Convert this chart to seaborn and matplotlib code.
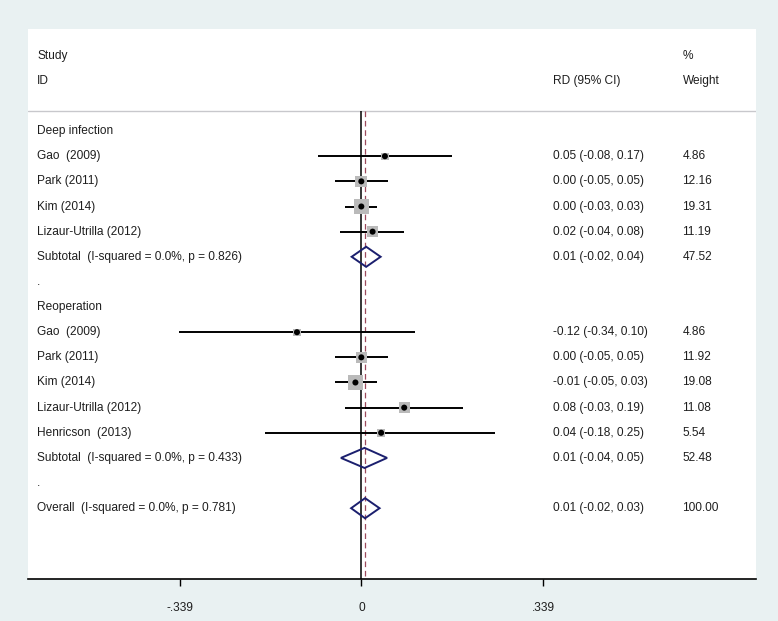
import numpy as np
import pandas as pd
import matplotlib
matplotlib.use("Agg")
import matplotlib.pyplot as plt
import matplotlib.transforms as mtransforms
from matplotlib.patches import Polygon
import seaborn as sns

# ---------------- data ----------------
labels = ["Deep infection", "Gao  (2009)", "Park (2011)", "Kim (2014)", "Lizaur-Utrilla (2012)",
          "Subtotal  (I-squared = 0.0%, p = 0.826)", ".",
          "Reoperation", "Gao  (2009)", "Park (2011)", "Kim (2014)", "Lizaur-Utrilla (2012)",
          "Henricson  (2013)", "Subtotal  (I-squared = 0.0%, p = 0.433)", ".",
          "Overall  (I-squared = 0.0%, p = 0.781)"]
row_type = ["head", "study", "study", "study", "study", "sub", "blank",
            "head", "study", "study", "study", "study", "study", "sub", "blank", "sub"]
est = [np.nan, 0.044, 0.0, 0.0, 0.021, 0.009, np.nan,
       np.nan, -0.12, 0.0, -0.011, 0.08, 0.037, 0.006, np.nan, 0.007]
lo = [np.nan, -0.08, -0.05, -0.03, -0.04, -0.018, np.nan,
      np.nan, -0.34, -0.05, -0.05, -0.03, -0.18, -0.038, np.nan, -0.019]
hi = [np.nan, 0.17, 0.05, 0.03, 0.08, 0.036, np.nan,
      np.nan, 0.10, 0.05, 0.03, 0.19, 0.25, 0.048, np.nan, 0.034]
ci_text = ["", "0.05 (-0.08, 0.17)", "0.00 (-0.05, 0.05)", "0.00 (-0.03, 0.03)", "0.02 (-0.04, 0.08)",
           "0.01 (-0.02, 0.04)", "",
           "", "-0.12 (-0.34, 0.10)", "0.00 (-0.05, 0.05)", "-0.01 (-0.05, 0.03)", "0.08 (-0.03, 0.19)",
           "0.04 (-0.18, 0.25)", "0.01 (-0.04, 0.05)", "", "0.01 (-0.02, 0.03)"]
weights = [np.nan, 4.86, 12.16, 19.31, 11.19, 47.52, np.nan,
           np.nan, 4.86, 11.92, 19.08, 11.08, 5.54, 52.48, np.nan, 100.00]
weight_text = ["", "4.86", "12.16", "19.31", "11.19", "47.52", "",
               "", "4.86", "11.92", "19.08", "11.08", "5.54", "52.48", "", "100.00"]
overall_line = 0.007
tick_vals = [-0.339, 0.0, 0.339]
tick_labels = ["-.339", "0", ".339"]

# ---------------- style ----------------
sns.set_style("white")
plt.rcParams["font.family"] = ["Liberation Sans", "DejaVu Sans"]
BG = "#e9f1f2"
TXT = "#1e1e1e"
FS = 8.6

fig = plt.figure(figsize=(7.78, 6.21), dpi=100, facecolor=BG)
ax = fig.add_axes([28.3 / 778, (621 - 578.6) / 621, (756 - 28.3) / 778, (578.6 - 29) / 621])
ax.set_facecolor("white")

ax.set_xlim(-0.621, 0.736)
ax.set_ylim(17.8, -4.06)

rows = np.arange(len(labels))
df = pd.DataFrame({"row": rows, "type": row_type, "est": est, "lo": lo, "hi": hi, "w": weights})
studies = df[df["type"] == "study"]

# reference lines
ax.vlines(0, -0.8, 17.8, color="black", lw=1.1, zorder=2)
ax.vlines(overall_line, -0.8, 17.8, color="#9c4a5c", lw=0.9, linestyles=(0, (4.5, 3)), zorder=2)
ax.axhline(-0.8, color="#c8c8cc", lw=1.0, zorder=1)

# confidence intervals
ax.hlines(studies["row"], studies["lo"], studies["hi"], color="black", lw=1.4, zorder=3)

# weight squares
k = 5.8
sns.scatterplot(data=studies, x="est", y="row", size="w",
                sizes=(k * studies["w"].min(), k * studies["w"].max()),
                size_norm=(studies["w"].min(), studies["w"].max()),
                marker="s", color="#bababa", edgecolor="none", legend=False, ax=ax, zorder=4)
# center dots
sns.scatterplot(data=studies, x="est", y="row", marker="o", color="black", s=19,
                edgecolor="none", legend=False, ax=ax, zorder=5)

# diamonds
for _, r in df[df["type"] == "sub"].iterrows():
    y = r["row"]
    poly = Polygon([[r["lo"], y], [r["est"], y - 0.4], [r["hi"], y], [r["est"], y + 0.4]],
                   closed=True, fill=False, edgecolor="#1b1f6e", lw=1.4, zorder=6)
    ax.add_patch(poly)

# text columns
trans = mtransforms.blended_transform_factory(ax.transAxes, ax.transData)
x_lab, x_ci, x_w = 0.012, 0.721, 0.899
ax.text(x_lab, -3, "Study", transform=trans, fontsize=FS, color=TXT, va="center")
ax.text(x_lab, -2, "ID", transform=trans, fontsize=FS, color=TXT, va="center")
ax.text(x_ci, -2, "RD (95% CI)", transform=trans, fontsize=FS, color=TXT, va="center")
ax.text(x_w, -3, "%", transform=trans, fontsize=FS, color=TXT, va="center")
ax.text(x_w, -2, "Weight", transform=trans, fontsize=FS, color=TXT, va="center")
for i in rows:
    ax.text(x_lab, i, labels[i], transform=trans, fontsize=FS, color=TXT, va="center")
    if ci_text[i]:
        ax.text(x_ci, i, ci_text[i], transform=trans, fontsize=FS, color=TXT, va="center")
    if weight_text[i]:
        ax.text(x_w, i, weight_text[i], transform=trans, fontsize=FS, color=TXT, va="center")

# axes
for s in ["top", "left", "right"]:
    ax.spines[s].set_visible(False)
ax.spines["bottom"].set_color("black")
ax.spines["bottom"].set_linewidth(1.2)
ax.set_yticks([])
ax.set_xticks(tick_vals)
ax.set_xticklabels(tick_labels)
ax.tick_params(axis="x", bottom=True, length=5, width=1, color="black", pad=12,
               labelsize=FS, labelcolor=TXT)
ax.set_xlabel("")
ax.set_ylabel("")

fig.savefig("out.png", dpi=100, facecolor=BG)
